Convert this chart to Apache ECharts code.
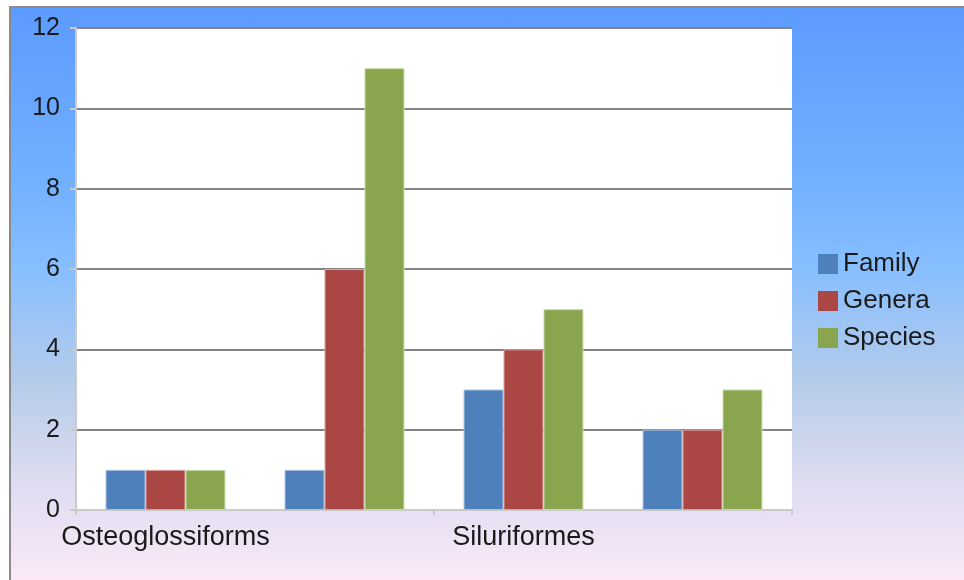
<!DOCTYPE html>
<html>
<head>
<meta charset="utf-8">
<script src="https://cdn.jsdelivr.net/npm/echarts@6/dist/echarts.min.js"></script>
<style>
  html, body { margin: 0; padding: 0; background: #fff; }
  #bg {
    position: absolute; left: 9px; top: 6px; width: 955px; height: 574px;
    box-sizing: border-box;
    border-left: 2px solid #8a8a8a; border-top: 2px solid #8a8a8a;
    background: linear-gradient(to bottom, #5c9bff 0%, #72b0ff 30%, #86beff 45%, #b4cbea 65%, #dcdcf0 82%, #fbe9f8 100%);
  }
  #main { position: absolute; left: 0; top: 0; width: 964px; height: 580px; }
</style>
</head>
<body>
<div id="bg"></div>
<div id="main"></div>
<script>
// categories (only every other one is labelled on the axis)
var categories = ['Osteoglossiforms', '', 'Siluriformes', ''];
var family = [1, 1, 3, 2];
var genera = [1, 6, 4, 2];
var species = [1, 11, 5, 3];
var yTicks = [0, 2, 4, 6, 8, 10, 12];

var FONT = '"Liberation Sans", Arial, sans-serif';

var chart = echarts.init(document.getElementById('main'));

function barSeries(name, data, color, edge) {
  return {
    name: name,
    type: 'bar',
    data: data,
    barGap: '0%',
    barCategoryGap: '33%',
    itemStyle: {
      color: color,
      borderColor: edge,
      borderWidth: 1
    }
  };
}

var option = {
  backgroundColor: 'transparent',
  animation: false,
  grid: {
    left: 76,
    top: 28,
    width: 716,
    height: 482,
    show: true,
    backgroundColor: '#ffffff',
    borderWidth: 0
  },
  legend: {
    orient: 'vertical',
    left: 813,
    top: 246,
    icon: 'rect',
    itemWidth: 20,
    itemHeight: 20,
    itemGap: 11,
    itemStyle: { borderWidth: 0 },
    textStyle: {
      fontFamily: FONT,
      fontSize: 26,
      color: '#1a1a1a'
    },
    data: ['Family', 'Genera', 'Species']
  },
  xAxis: {
    type: 'category',
    data: categories,
    axisLine: { lineStyle: { color: '#cacaca', width: 2 } },
    axisTick: {
      show: true,
      interval: function (index) { return index % 2 === 0; },
      length: 5,
      lineStyle: { color: '#cacaca', width: 2 }
    },
    axisLabel: {
      interval: 0,
      margin: 14,
      fontFamily: FONT,
      fontSize: 27,
      color: '#1a1a1a'
    },
    splitLine: { show: false }
  },
  yAxis: {
    type: 'value',
    min: yTicks[0],
    max: yTicks[yTicks.length - 1],
    interval: 2,
    axisLine: { show: true, lineStyle: { color: '#cacaca', width: 2 } },
    axisTick: { show: true, length: 6, lineStyle: { color: '#cacaca', width: 2 } },
    axisLabel: {
      margin: 16,
      fontFamily: FONT,
      fontSize: 25,
      color: '#1a1a1a'
    },
    splitLine: { show: true, lineStyle: { color: '#858585', width: 2 } }
  },
  series: [
    barSeries('Family', family, '#4e80bc', '#a9c1df'),
    barSeries('Genera', genera, '#aa4644', '#d9a3a2'),
    barSeries('Species', species, '#89a54e', '#c8dbad')
  ]
};

chart.setOption(option);
</script>
</body>
</html>
